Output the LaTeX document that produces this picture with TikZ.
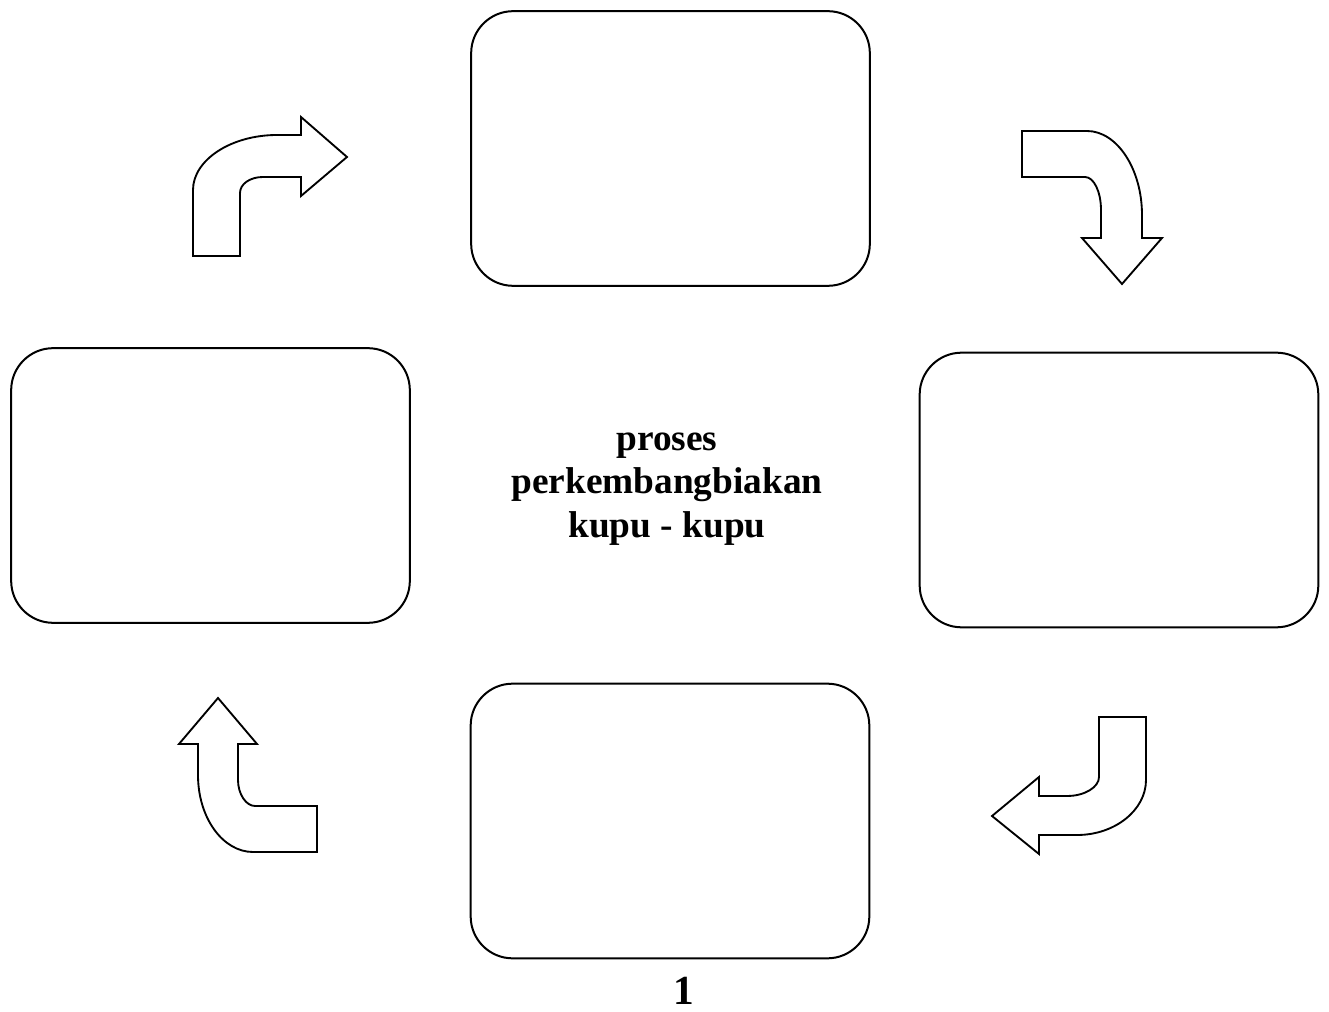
\documentclass[tikz,border=0pt]{standalone}
\usepackage{fontspec}
\setmainfont{Liberation Serif}
\begin{document}
\begin{tikzpicture}[x=0.75pt,y=-0.75pt,
  stagebox/.style={draw=black,line width=1.5pt,rounded corners=31.5pt,
    minimum width=299pt,minimum height=206pt,inner sep=0pt},
  blockarrow/.style={draw=black,line width=1.4pt,fill=white,line join=miter},
  title/.style={font=\fontsize{28}{32.6}\selectfont\bfseries,align=center,inner sep=0pt}]
\useasboundingbox (0,0) rectangle (1329,1012);
% stage boxes
\node[stagebox] (top) at (670.5,148.5) {};
\node[stagebox] (left) at (210.5,485.5) {};
\node[stagebox] (right) at (1119,490) {};
\node[stagebox] (bottom) at (670,821) {};
% centre title
\node[title] (label) at (667,489) {proses\\perkembangbiakan\\kupu - kupu};
\node[title,font=\fontsize{31}{34}\selectfont\bfseries,anchor=base] (num) at (684,1004) {1};
% bent arrow, top-left (pointing right)
\draw[blockarrow] (193,256) -- (193,190)
  .. controls (193,160) and (231,135) .. (277,135)
  -- (301,135) -- (301,117) -- (347,157) -- (301,196) -- (301,177) -- (263,177)
  .. controls (250,177) and (240,184) .. (240,193)
  -- (240,256) -- cycle;
% bent arrow, top-right (pointing down)
\draw[blockarrow] (1022,131) -- (1087,131)
  .. controls (1117,131) and (1142,169) .. (1142,215)
  -- (1142,238) -- (1162,238) -- (1122,284) -- (1082,238) -- (1101,238) -- (1101,210)
  .. controls (1101,192) and (1094,177) .. (1085,177)
  -- (1022,177) -- cycle;
% bent arrow, bottom-right (pointing left)
\draw[blockarrow] (1099,717) -- (1146,717) -- (1146,780)
  .. controls (1146,810) and (1115,835) .. (1077,835)
  -- (1039,835) -- (1039,854) -- (992,816) -- (1039,777) -- (1039,796) -- (1067,796)
  .. controls (1085,796) and (1099,787) .. (1099,777)
  -- cycle;
% bent arrow, bottom-left (pointing up)
\draw[blockarrow] (218,698) -- (257,744) -- (238,744) -- (238,780)
  .. controls (238,794) and (246,806) .. (255,806)
  -- (317,806) -- (317,852) -- (253,852)
  .. controls (223,852) and (198,818) .. (198,775)
  -- (198,744) -- (179,744) -- cycle;
\end{tikzpicture}
\end{document}
